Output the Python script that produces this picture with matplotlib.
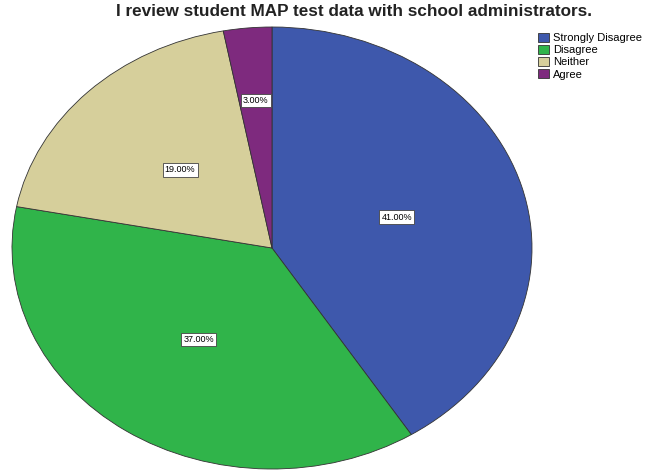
import matplotlib
matplotlib.use("Agg")
import matplotlib.pyplot as plt

# --------- DATA ---------
categories = ["Strongly Disagree", "Disagree", "Neither", "Agree"]
percents = [41.0, 37.0, 19.0, 3.0]
colors = ["#3E58AC", "#30B44A", "#D6CF9B", "#7E2A7E"]
title = "I review student MAP test data with school administrators."
# ------------------------

plt.rcParams["font.family"] = ["Liberation Sans", "DejaVu Sans"]

fig = plt.figure(figsize=(6.48, 4.71), dpi=100)
# pie is drawn as an ellipse (wider than tall), like the SPSS output
ax = fig.add_axes([12 / 648, 2 / 471, 520 / 648, 442 / 471])

wedges, texts, autotexts = ax.pie(
    percents,
    colors=colors,
    startangle=90,
    counterclock=False,
    autopct="%.2f%%",
    pctdistance=0.5,
    wedgeprops=dict(edgecolor="#333333", linewidth=0.6),
    textprops=dict(fontsize=6.5),
)
ax.set_aspect("auto")
ax.set_xlim(-1, 1)
ax.set_ylim(-1, 1)

for t in autotexts:
    t.set_bbox(dict(boxstyle="square,pad=0.25", facecolor="white",
                    edgecolor="#444444", linewidth=0.6))

# the small slice label sits further out
x, y = autotexts[3].get_position()
autotexts[3].set_position((x * 0.67 / 0.5, y * 0.67 / 0.5))

fig.text(354 / 648, 1 - 11 / 471, title, ha="center", va="center",
         fontsize=12.3, fontweight="bold", color="#222222")

fig.legend(wedges, categories, loc="upper left",
           bbox_to_anchor=(530 / 648, 1 - 25 / 471),
           fontsize=8, frameon=False, handlelength=1.0, handleheight=0.9,
           handletextpad=0.4, labelspacing=0.15, borderpad=0.2)

fig.savefig("out.png", dpi=100)
